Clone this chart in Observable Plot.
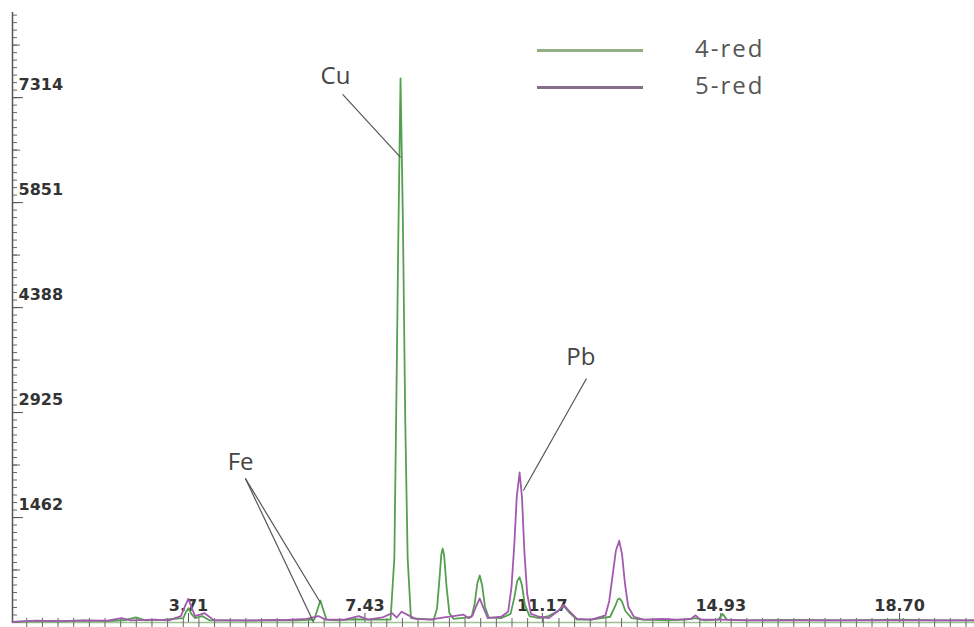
<!DOCTYPE html>
<html><head><meta charset="utf-8">
<script src="https://cdn.jsdelivr.net/npm/d3@7"></script>
<script src="https://cdn.jsdelivr.net/npm/@observablehq/plot@0.6"></script>
<style>
html,body{margin:0;padding:0;background:#fff;}
#wrap{position:relative;width:974px;height:627px;overflow:hidden;}
#legend{position:absolute;left:537px;top:29px;font-family:"Open Sans",sans-serif;font-size:24px;color:#555;letter-spacing:2px;}
.row{display:flex;align-items:center;height:37px;}
.sw{width:106px;height:0;border-top:3px solid;margin-right:52px;margin-top:6px;}
</style></head><body><div id="wrap"></div>
<script>
// Series names and colours
const seriesNames = ["4-red", "5-red"];
const seriesColors = ["#55a04e", "#a25aae"];
const legendColors = ["#93ad85", "#85708a"];

// 4-red spectrum: energy (keV) and counts
const e4 = [0.0,0.5,1.0,1.5,2.0,2.4,2.6,2.8,3.2,3.6,3.66,3.71,3.77,3.85,4.0,4.15,4.6,5.0,5.5,6.0,6.36,6.43,6.49,6.55,6.62,6.85,7.2,7.6,7.97,8.05,8.10,8.13,8.18,8.23,8.28,8.33,8.40,8.6,8.88,8.95,9.0,9.04,9.07,9.1,9.15,9.21,9.3,9.45,9.6,9.68,9.74,9.8,9.85,9.9,9.96,10.04,10.3,10.5,10.58,10.64,10.69,10.74,10.8,10.9,11.1,11.3,11.5,11.62,11.75,11.9,12.2,12.6,12.7,12.76,12.8,12.85,12.92,13.05,13.3,13.8,14.2,14.4,14.6,14.88,14.97,15.06,15.5,16.5,17.5,18.7,19.5,20.28];
const c4 = [10,20,15,25,20,35,70,30,40,60,150,200,120,60,90,30,30,25,35,30,40,180,306,180,40,30,45,40,40,900,3500,5200,7580,5600,2800,900,60,50,40,200,600,950,1030,930,500,130,50,60,70,80,250,550,655,520,220,70,60,120,350,580,630,520,250,90,60,90,160,230,130,40,40,80,220,320,335,290,160,60,40,30,40,60,30,40,120,40,30,35,30,40,30,30];

// 5-red spectrum: energy (keV) and counts
const e5 = [0.0,0.5,1.0,1.5,2.0,2.3,2.5,3.0,3.3,3.55,3.65,3.71,3.78,3.85,4.05,4.25,5.0,5.8,6.2,6.45,6.6,7.0,7.3,7.5,7.8,8.0,8.1,8.2,8.35,8.5,8.8,9.1,9.3,9.5,9.62,9.7,9.77,9.85,9.93,10.02,10.3,10.45,10.52,10.58,10.63,10.69,10.74,10.79,10.85,10.93,11.1,11.3,11.5,11.62,11.75,11.9,12.2,12.5,12.58,12.65,12.72,12.79,12.85,12.91,12.98,13.1,13.3,13.7,14.0,14.3,14.4,14.5,14.9,15.5,17.0,18.7,20.28];
const c5 = [10,25,20,30,25,60,30,40,30,90,250,330,200,90,130,30,30,35,50,90,40,40,90,40,70,130,70,150,100,50,40,70,90,110,60,100,220,335,200,60,80,150,500,1100,1750,2090,1750,1000,400,120,80,60,160,245,150,50,40,100,300,650,1000,1140,950,550,220,80,40,50,40,50,100,40,40,30,30,30,30];

// Axis tick labels
const yTickValues = [1462, 2925, 4388, 5851, 7314];
const yTickLabels = ["1462", "2925", "4388", "5851", "7314"];
const xTickValues = [3.71, 7.43, 11.17, 14.93, 18.70];
const xTickLabels = ["3.71", "7.43", "11.17", "14.93", "18.70"];

// Peak annotations (data coordinates)
const noteNames = ["Cu", "Fe", "Pb"];
const noteX = [6.81, 4.81, 11.98];
const noteY = [7609, 2230, 3693];
const leaderX1 = [6.96, 4.91, 4.91, 12.10];
const leaderY1 = [7358, 2007, 2007, 3400];
const leaderX2 = [8.18, 6.49, 6.35, 10.77];
const leaderY2 = [6480, 279, 0, 1839];

const data4 = e4.map((e, i) => ({e, c: c4[i]}));
const data5 = e5.map((e, i) => ({e, c: c5[i]}));
const notes = noteNames.map((t, i) => ({t, x: noteX[i], y: noteY[i]}));
const leaders = leaderX1.map((x1, i) => ({x1, y1: leaderY1[i], x2: leaderX2[i], y2: leaderY2[i]}));
const yTicks = yTickValues.map((v, i) => ({v, t: yTickLabels[i]}));
const xTicks = xTickValues.map((v, i) => ({v, t: xTickLabels[i]}));

const yStep = 7314 / 5 / 14;
const yMinor = d3.range(0, 8500, yStep);
const yMid = d3.range(0, 8500, 7314 / 10);
const xMinor = d3.range(0.3, 20.28, 0.33);

const tickFont = {fontFamily: "DejaVu Sans", fontWeight: "bold", fontSize: 16, fill: "#333"};

const chart = Plot.plot({
  width: 974, height: 627,
  marginLeft: 12, marginRight: 0, marginTop: 12, marginBottom: 5,
  x: {domain: [0, 20.28], axis: null},
  y: {domain: [0, 8500], axis: null},
  style: {background: "transparent", overflow: "visible"},
  marks: [
    Plot.ruleY([0], {stroke: "#9fbf95", strokeWidth: 1.5}),
    Plot.axisY(yMinor, {anchor: "left", tickSize: 5, dx: 5, tickFormat: () => "", label: null, stroke: "#666"}),
    Plot.axisY(yMid, {anchor: "left", tickSize: 8, dx: 8, tickFormat: () => "", label: null, stroke: "#666"}),
    Plot.axisY(yTickValues, {anchor: "left", tickSize: 11, dx: 11, tickFormat: () => "", label: null, stroke: "#555"}),
    Plot.axisX(xMinor, {anchor: "bottom", tickSize: 5, tickFormat: () => "", label: null, stroke: "#666"}),
    Plot.axisX(xMinor, {anchor: "bottom", tickSize: 4, dy: -4, tickFormat: () => "", label: null, stroke: "#666"}),
    Plot.axisX(xTickValues, {anchor: "bottom", tickSize: 9, dy: -9, tickFormat: () => "", label: null, stroke: "#555"}),
    Plot.ruleX([0], {stroke: "#555", strokeWidth: 1.5}),
    Plot.text(yTicks, {x: 0, y: "v", text: "t", dx: 6, dy: -13, textAnchor: "start", ...tickFont}),
    Plot.text(xTicks, {x: "v", y: 0, text: "t", dy: -17, textAnchor: "middle", ...tickFont}),
    Plot.line(data4, {x: "e", y: "c", stroke: seriesColors[0], strokeWidth: 1.8}),
    Plot.line(data5, {x: "e", y: "c", stroke: seriesColors[1], strokeWidth: 1.8}),
    Plot.link(leaders, {x1: "x1", y1: "y1", x2: "x2", y2: "y2", stroke: "#555", strokeWidth: 1.2}),
    Plot.text(notes, {x: "x", y: "y", text: "t", fontSize: 24, fontFamily: "Open Sans", fill: "#444"})
  ]
});

const wrap = document.getElementById("wrap");
wrap.appendChild(chart);
const legend = document.createElement("div");
legend.id = "legend";
seriesNames.forEach((name, i) => {
  const row = document.createElement("div");
  row.className = "row";
  const sw = document.createElement("span");
  sw.className = "sw";
  sw.style.borderTopColor = legendColors[i];
  const label = document.createElement("span");
  label.textContent = name;
  row.appendChild(sw);
  row.appendChild(label);
  legend.appendChild(row);
});
wrap.appendChild(legend);
</script>
</body></html>
